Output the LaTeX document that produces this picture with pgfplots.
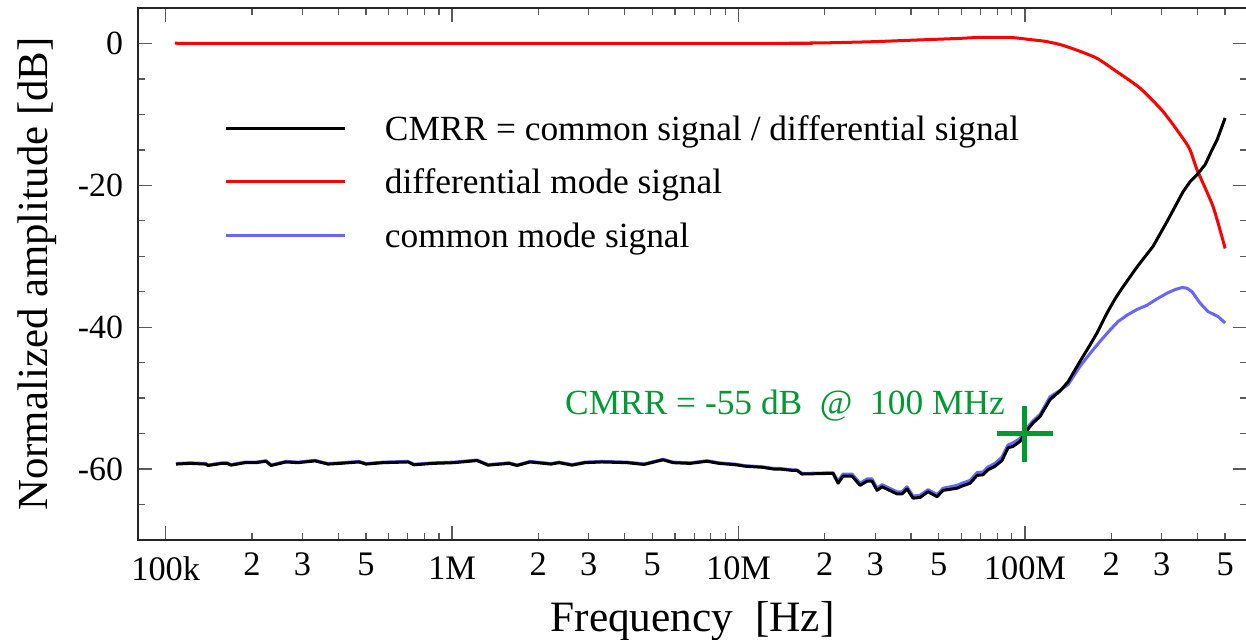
\documentclass[border=0pt]{standalone}
\usepackage{pgfplots}
\pgfplotsset{compat=1.18}
\usepackage{pgfplotstable}
\usepackage{fontspec}
\setmainfont{Liberation Serif}
\definecolor{cmgreen}{RGB}{0,153,51}
\definecolor{cmblue}{RGB}{102,102,255}
\definecolor{cmred}{RGB}{255,0,0}

\pgfplotstableread{
f db
1.086e5 -59.3
1.216e5 -59.2
1.383e5 -59.3
1.405e5 -59.5
1.573e5 -59.2
1.637e5 -59.2
1.690e5 -59.45
1.892e5 -59.1
2.067e5 -59.1
2.240e5 -58.9
2.332e5 -59.5
2.631e5 -59.0
2.897e5 -59.1
3.320e5 -58.85
3.688e5 -59.3
4.061e5 -59.2
4.731e5 -59.0
5.005e5 -59.3
5.739e5 -59.1
7.016e5 -59.0
7.362e5 -59.4
8.576e5 -59.2
1.015e6 -59.1
1.222e6 -58.8
1.335e6 -59.45
1.580e6 -59.2
1.685e6 -59.5
1.871e6 -59.0
2.215e6 -59.3
2.362e6 -59.1
2.622e6 -59.45
2.911e6 -59.1
3.338e6 -59.0
4.081e6 -59.1
4.678e6 -59.35
5.451e6 -58.7
5.906e6 -59.1
6.771e6 -59.2
7.763e6 -58.9
8.551e6 -59.2
9.801e6 -59.4
1.054e7 -59.6
1.208e7 -59.75
1.330e7 -60.0
1.396e7 -60.0
1.550e7 -60.2
1.601e7 -60.2
1.666e7 -60.7
2.138e7 -60.6
2.226e7 -62.0
2.317e7 -61.0
2.491e7 -61.0
2.656e7 -62.3
2.810e7 -61.7
2.925e7 -61.7
3.045e7 -63.0
3.170e7 -62.5
3.576e7 -63.5
3.723e7 -63.5
3.876e7 -62.8
4.067e7 -64.1
4.303e7 -64.0
4.589e7 -63.2
4.933e7 -63.9
5.177e7 -63.0
5.793e7 -62.7
6.030e7 -62.4
6.431e7 -62.0
6.803e7 -60.9
7.140e7 -60.8
7.433e7 -60.1
7.863e7 -59.6
8.318e7 -58.8
8.730e7 -57.0
9.088e7 -56.8
9.614e7 -56.1
1.000e8 -54.9
1.067e8 -53.5
1.129e8 -52.6
1.224e8 -50.2
1.326e8 -49.0
1.414e8 -47.7
1.558e8 -44.8
1.688e8 -42.5
1.786e8 -40.8
1.935e8 -38.0
2.064e8 -36.0
2.201e8 -34.3
2.463e8 -31.5
2.801e8 -28.6
3.135e8 -25.1
3.343e8 -23.0
3.565e8 -20.9
3.771e8 -19.5
3.990e8 -18.5
4.255e8 -17.1
4.501e8 -15.0
4.686e8 -13.6
5.000e8 -10.5
}\cmrr

\pgfplotstableread{
f db
1.086e5 -59.22
1.216e5 -59.12
1.383e5 -59.22
1.405e5 -59.42
1.573e5 -59.12
1.637e5 -59.12
1.690e5 -59.37
1.892e5 -59.02
2.067e5 -59.02
2.240e5 -58.82
2.332e5 -59.42
2.631e5 -58.92
2.897e5 -59.02
3.320e5 -58.77
3.688e5 -59.22
4.061e5 -59.12
4.731e5 -58.92
5.005e5 -59.22
5.739e5 -59.02
7.016e5 -58.92
7.362e5 -59.32
8.576e5 -59.12
1.015e6 -59.02
1.222e6 -58.72
1.335e6 -59.37
1.580e6 -59.12
1.685e6 -59.42
1.871e6 -58.92
2.215e6 -59.22
2.362e6 -59.02
2.622e6 -59.37
2.911e6 -59.02
3.338e6 -58.92
4.081e6 -59.02
4.678e6 -59.27
5.451e6 -58.62
5.906e6 -59.02
6.771e6 -59.12
7.763e6 -58.82
8.551e6 -59.12
9.801e6 -59.32
1.054e7 -59.52
1.208e7 -59.67
1.330e7 -59.92
1.396e7 -59.92
1.550e7 -60.12
1.601e7 -60.12
1.666e7 -60.62
2.138e7 -60.52
2.226e7 -61.7
2.317e7 -60.7
2.491e7 -60.7
2.656e7 -62.0
2.810e7 -61.4
2.925e7 -61.4
3.045e7 -62.7
3.170e7 -62.2
3.576e7 -63.2
3.723e7 -63.2
3.876e7 -62.5
4.067e7 -63.8
4.303e7 -63.7
4.589e7 -62.9
4.933e7 -63.6
5.177e7 -62.7
5.793e7 -62.3
6.030e7 -62.0
6.431e7 -61.6
6.803e7 -60.5
7.140e7 -60.4
7.433e7 -59.7
7.863e7 -59.2
8.318e7 -58.3
8.730e7 -56.6
9.088e7 -56.3
9.614e7 -55.7
1.000e8 -54.5
1.067e8 -53.2
1.129e8 -52.3
1.224e8 -49.8
1.326e8 -48.9
1.414e8 -48.1
1.558e8 -45.5
1.688e8 -43.7
1.829e8 -42.0
1.982e8 -40.4
2.114e8 -39.2
2.273e8 -38.3
2.463e8 -37.5
2.669e8 -36.9
2.893e8 -36.0
3.135e8 -35.2
3.343e8 -34.7
3.536e8 -34.4
3.681e8 -34.5
3.832e8 -35.0
4.087e8 -36.6
4.358e8 -37.8
4.724e8 -38.5
5.000e8 -39.4
}\common

\pgfplotstableread{
f db
1.086e5 0.05
1.677e5 0.0
1.396e7 0.0
1.640e7 0.05
2.087e7 0.1
2.949e7 0.25
3.970e7 0.45
5.793e7 0.7
6.969e7 0.85
8.872e7 0.85
1.042e8 0.55
1.176e8 0.3
1.326e8 -0.15
1.520e8 -0.95
1.786e8 -2.1
2.097e8 -4.0
2.523e8 -6.3
3.036e8 -9.6
3.536e8 -13.2
3.771e8 -15.0
3.990e8 -17.8
4.538e8 -23.0
5.000e8 -28.9
}\diffmode

\begin{document}
\begin{tikzpicture}
\path[use as bounding box] (-138bp,-100bp) rectangle (1108bp,540bp);
\begin{axis}[
  at={(0,0)}, anchor=south west,
  scale only axis, width=1109bp, height=532bp,
  xmode=log, xmin=8.003e4, xmax=5.965e8,
  ymin=-70, ymax=5,
  axis line style={black!85, line width=1.5bp},
  tick style={black!65, line width=1.3bp},
  major tick length=14bp, minor tick length=7bp,
  tick align=inside,
  xtick={1e5,1e6,1e7,1e8},
  xticklabels={100k,1M,10M,100M},
  minor xtick={2e5,3e5,4e5,5e5,6e5,7e5,8e5,9e5,2e6,3e6,4e6,5e6,6e6,7e6,8e6,9e6,2e7,3e7,4e7,5e7,6e7,7e7,8e7,9e7,2e8,3e8,4e8,5e8},
  extra x ticks={2e5,3e5,5e5,2e6,3e6,5e6,2e7,3e7,5e7,2e8,3e8,5e8},
  extra x tick labels={2,3,5,2,3,5,2,3,5,2,3,5},
  extra x tick style={major tick length=0pt, tick label style={font=\fontsize{31}{36}\selectfont, yshift=4bp}},
  ytick={-60,-40,-20,0},
  yticklabels={-60,-40,-20,0},
  minor ytick={-65,-55,-50,-45,-35,-30,-25,-15,-10,-5},
  xticklabel style={font=\fontsize{34.5}{40}\selectfont, inner sep=0pt, outer sep=0pt, anchor=north, yshift=-17bp},
  yticklabel style={font=\fontsize{34}{40}\selectfont, inner sep=0pt, outer sep=0pt, anchor=east, xshift=-15bp},
  xlabel={Frequency~~[Hz]},
  ylabel={Normalized amplitude [dB]},
  every axis x label/.style={at={(axis description cs:0.5,-0.1729)}, anchor=base, font=\fontsize{43.5}{50}\selectfont, inner sep=0pt},
  every axis y label/.style={at={(axis description cs:-0.0812,0.5)}, anchor=base, rotate=90, font=\fontsize{43}{50}\selectfont, inner sep=0pt},
  legend cell align=left,
  legend image code/.code={\draw[#1] (0bp,0bp) -- (119bp,0bp);},
  legend style={draw=none, fill=none, inner sep=0pt, outer sep=0pt,
    at={(axis description cs:0.0784,0.673)}, anchor=west,
    font=\fontsize{35.5}{40}\selectfont,
    row sep=29.5bp, column sep=38bp,
    nodes={inner sep=0pt, text height=24bp, text depth=0pt}},
]
\addlegendimage{black, line width=3bp}
\addlegendentry{CMRR = common signal / differential signal}
\addlegendimage{cmred, line width=3bp}
\addlegendentry{differential mode signal}
\addlegendimage{cmblue, line width=3bp}
\addlegendentry{common mode signal}

\addplot[forget plot, cmred, line width=3bp, smooth, tension=0.4] table[x=f, y=db] {\diffmode};
\addplot[forget plot, cmblue, line width=3bp, line join=round] table[x=f, y=db] {\common};
\addplot[forget plot, black, line width=3bp, line join=round] table[x=f, y=db] {\cmrr};
\addplot[forget plot, only marks, mark=+, mark size=28bp, cmgreen, line width=5bp] coordinates {(1e8,-55)};
\node[anchor=base east, text=cmgreen, inner sep=0pt, font=\fontsize{35.5}{40}\selectfont] at (axis cs:8.52e7,-52.35) {CMRR = -55 dB~~@~~100 MHz};
\end{axis}
\end{tikzpicture}
\end{document}
